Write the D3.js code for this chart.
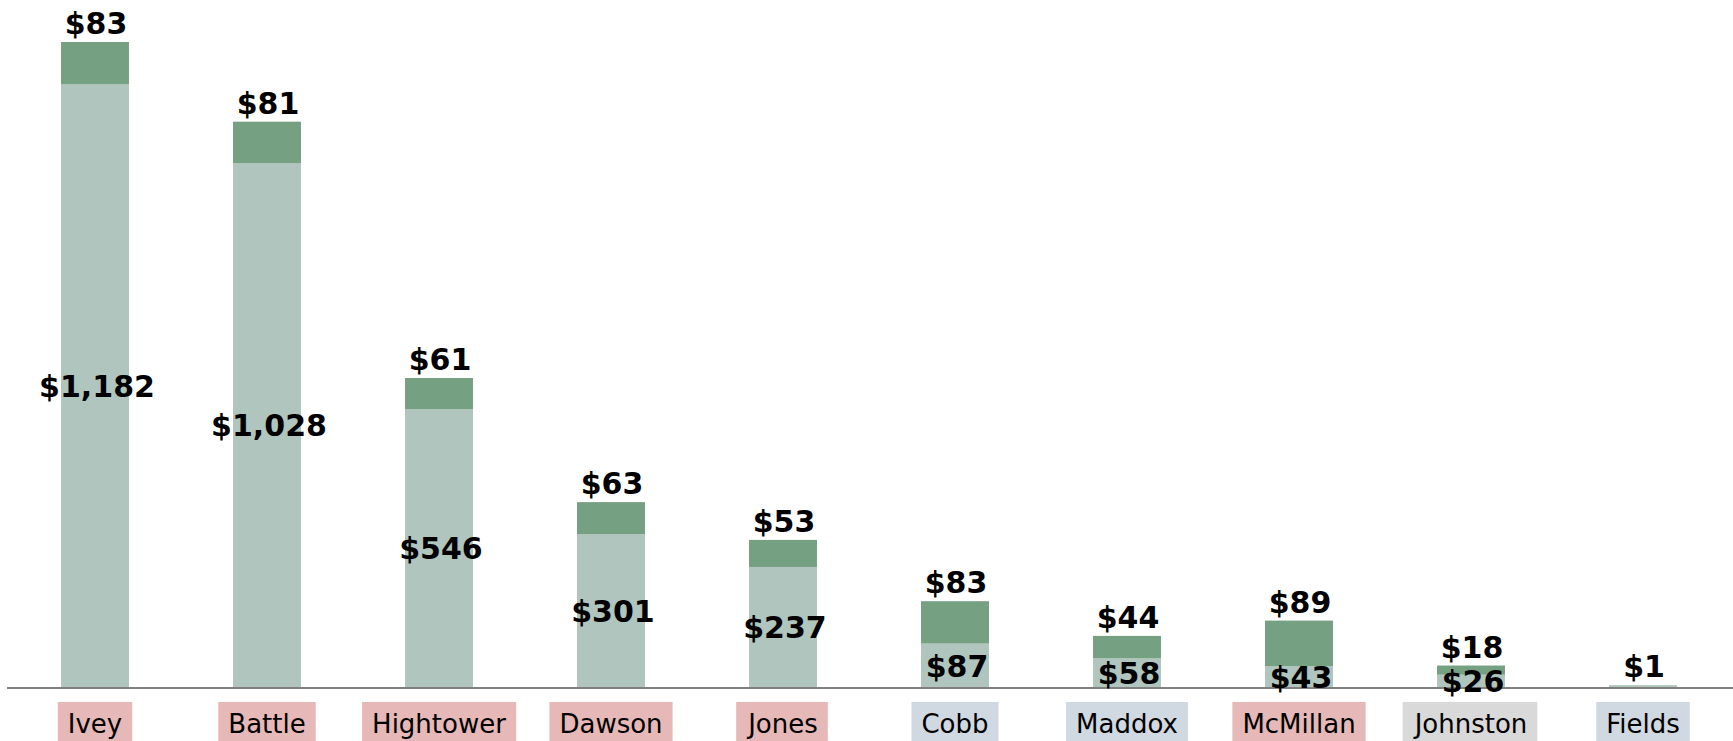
<!DOCTYPE html>
<html lang="en">
<head>
  <meta charset="UTF-8">
  <title>Stacked bars by name</title>
  <style>
    body {
      margin: 0;
      background-color: #fff;
      font-family: "DejaVu Sans", Verdana, sans-serif;
    }
    svg { display: block; }
  </style>
</head>
<body>
  <svg id="chart" width="1733" height="741"></svg>

  <script src="https://d3js.org/d3.v7.min.js"></script>
  <script>
    // values
    const names = ["Ivey", "Battle", "Hightower", "Dawson", "Jones", "Cobb", "Maddox", "McMillan", "Johnston", "Fields"];
    const baseValues = [1182, 1028, 546, 301, 237, 87, 58, 43, 26, 4];
    const topValues = [83, 81, 61, 63, 53, 83, 44, 89, 18, 1];
    const groups = ["red", "red", "red", "red", "red", "blue", "blue", "red", "grey", "blue"];
    // Fields' base is too thin to carry a label
    const showBaseLabel = [true, true, true, true, true, true, true, true, true, false];

    const groupColors = { red: "#e6b8b7", blue: "#d0d8e2", grey: "#d9d9d9" };
    const baseColor = "#b0c5bd";
    const topColor = "#76a082";

    const svg = d3.select("#chart");
    const baseline = 688;

    const x = d3.scaleBand()
      .domain(names)
      .range([9, 1729])
      .paddingInner(0.605)
      .paddingOuter(0.3025);

    const y = d3.scaleLinear()
      .domain([0, 1265])
      .range([baseline, 42]);

    const fmt = v => "$" + d3.format(",")(v);

    const rows = names.map((n, i) => ({
      name: n, base: baseValues[i], top: topValues[i], group: groups[i], showBase: showBaseLabel[i]
    }));

    // bars
    svg.selectAll("rect.base")
      .data(rows)
      .enter()
      .append("rect")
      .attr("class", "base")
      .attr("x", d => x(d.name))
      .attr("width", x.bandwidth())
      .attr("y", d => y(d.base))
      .attr("height", d => y(0) - y(d.base))
      .attr("fill", baseColor);

    svg.selectAll("rect.top")
      .data(rows)
      .enter()
      .append("rect")
      .attr("class", "top")
      .attr("x", d => x(d.name))
      .attr("width", x.bandwidth())
      .attr("y", d => y(d.base + d.top))
      .attr("height", d => y(d.base) - y(d.base + d.top))
      .attr("fill", topColor);

    // axis line
    svg.append("line")
      .attr("x1", 7)
      .attr("x2", 1733)
      .attr("y1", baseline)
      .attr("y2", baseline)
      .attr("stroke", "#808080")
      .attr("stroke-width", 2);

    // value labels
    svg.selectAll("text.baseLabel")
      .data(rows.filter(d => d.showBase))
      .enter()
      .append("text")
      .attr("class", "baseLabel")
      .attr("x", d => x(d.name) + x.bandwidth() / 2 + 2)
      .attr("y", d => (y(0) + y(d.base)) / 2)
      .attr("dy", "0.36em")
      .attr("text-anchor", "middle")
      .attr("font-size", "30px")
      .attr("font-weight", "bold")
      .attr("fill", "#000")
      .text(d => fmt(d.base));

    svg.selectAll("text.topLabel")
      .data(rows)
      .enter()
      .append("text")
      .attr("class", "topLabel")
      .attr("x", d => x(d.name) + x.bandwidth() / 2 + 1)
      .attr("y", d => y(d.base + d.top) - 8)
      .attr("text-anchor", "middle")
      .attr("font-size", "30px")
      .attr("font-weight", "bold")
      .attr("fill", "#000")
      .text(d => fmt(d.top));

    // category labels with coloured boxes
    const cat = svg.selectAll("g.cat")
      .data(rows)
      .enter()
      .append("g")
      .attr("class", "cat");

    const catText = cat.append("text")
      .attr("x", d => x(d.name) + x.bandwidth() / 2)
      .attr("y", 733)
      .attr("text-anchor", "middle")
      .attr("font-size", "26px")
      .attr("fill", "#000")
      .text(d => d.name);

    cat.each(function(d) {
      const g = d3.select(this);
      const bb = g.select("text").node().getBBox();
      g.insert("rect", "text")
        .attr("x", bb.x - 10)
        .attr("width", bb.width + 20)
        .attr("y", 702)
        .attr("height", 50)
        .attr("fill", groupColors[d.group]);
    });
  </script>
</body>
</html>
